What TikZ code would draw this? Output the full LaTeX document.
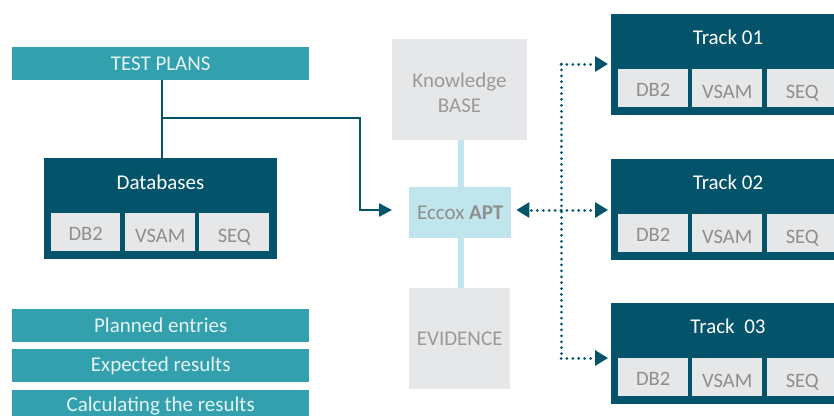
\documentclass[tikz,border=0pt]{standalone}
\usepackage{fontspec}
\setmainfont{Carlito}
\usetikzlibrary{arrows.meta}
\definecolor{darkbox}{HTML}{03546A}
\definecolor{tealbar}{HTML}{33A0AE}
\definecolor{tealtext}{HTML}{E4F3F5}
\definecolor{lgray}{HTML}{E6E7E8}
\definecolor{cellgray}{HTML}{8E8E8E}
\definecolor{kbgray}{HTML}{9A9A9A}
\definecolor{lblue}{HTML}{C0E5EC}
\tikzset{
  base/.style={rectangle, inner sep=0pt, anchor=north west, font=\fontsize{21}{25}\selectfont},
  tealbox/.style={base, fill=tealbar, text=tealtext, minimum width=297pt, minimum height=33pt},
  dbox/.style={base, fill=darkbox, minimum width=#1, minimum height=101pt},
  title/.style={inner sep=0pt, text=white, font=\fontsize{21}{24}\selectfont},
  cell/.style={base, fill=lgray, text=cellgray, minimum width=#1, minimum height=38pt,
    font=\fontsize{20.5}{24}\selectfont, text height=17pt, text depth=0pt},
  lowcell/.style={cell=#1, text height=21pt},
  graybox/.style={base, fill=lgray, text=kbgray, align=center},
  graytext/.style={inner sep=0pt, text=kbgray, align=center, font=\fontsize{21}{25}\selectfont},
  solidconn/.style={draw=darkbox, line width=2.5pt},
  dotline/.style={draw=darkbox, line width=3pt, line cap=round, dash pattern=on 0.01pt off 5.9pt},
  dottip/.style={-{Triangle[length=13pt,width=15pt]}},
}
\begin{document}
\begin{tikzpicture}[x=1pt,y=-1pt]
\useasboundingbox (0,0) rectangle (834,415);
\clip (0,0) rectangle (834,415);

% left column
\node[tealbox] (tp) at (12,47) {TEST PLANS};
\node[dbox=233pt] (db) at (44,158) {};
\node[title] (dbt) at (160.5,182) {Databases};
\node[cell=69pt] (dbc1) at (51,213) {DB2};
\node[lowcell=70pt] (dbc2) at (125,213) {VSAM};
\node[lowcell=70pt] (dbc3) at (199,213) {SEQ};

\node[tealbox] (pe) at (12,309) {Planned entries};
\node[tealbox] (er) at (12,349) {Expected results};
\node[tealbox, minimum height=32pt] (cr) at (12,390) {Calculating the results};

% middle column
\node[graybox, minimum width=135pt, minimum height=101pt] (kb) at (392,39) {};
\node[graytext] (kbt) at (459.5,93) {Knowledge\\BASE};
\node[graybox, minimum width=101pt, minimum height=101pt] (ev) at (409,288) {EVIDENCE};
\node[base, fill=lblue, minimum width=102pt, minimum height=51pt] (apt) at (409,187)
  {\color{cellgray}Eccox \textbf{APT}};
\fill[lblue] (458,140) rectangle (464,187);
\fill[lblue] (458,238) rectangle (464,288);

% connectors from test plans
\coordinate (br) at (162,118);
\coordinate (aptin) at (392,210);
\draw[solidconn] (tp.south -| br) -- (db.north -| br);
\draw[solidconn, -{Triangle[length=13pt,width=13pt]}] (br) -- (360,118) |- (aptin);

% right column tracks
\foreach \i/\y/\lab in {1/14/Track 01, 2/159/Track 02, 3/303/Track\ \ 03}{
  \node[dbox=234pt] (t\i) at (611,\y) {};
  \node[title] (t\i t) at (728,\y+23) {\lab};
  \node[cell=70pt] (t\i c1) at (618,\y+55) {DB2};
  \node[lowcell=70pt] (t\i c2) at (692,\y+55) {VSAM};
  \node[lowcell=70pt] (t\i c3) at (767,\y+55) {SEQ};
}

% dotted connectors
\coordinate (j1) at (561,64);
\coordinate (j2) at (561,210);
\coordinate (j3) at (561,358);
\draw[dotline] (j1) -- (j3);
\draw[dotline, dottip, shorten >=3pt] (j1) -- (j1 -| t1.west);
\draw[dotline, dottip, shorten >=3pt] (j2) -- (j2 -| t2.west);
\draw[dotline, dottip, shorten >=3pt] (j3) -- (j3 -| t3.west);
\draw[dotline, dottip, shorten >=5pt] (j2) -- (j2 -| apt.east);
\end{tikzpicture}
\end{document}
